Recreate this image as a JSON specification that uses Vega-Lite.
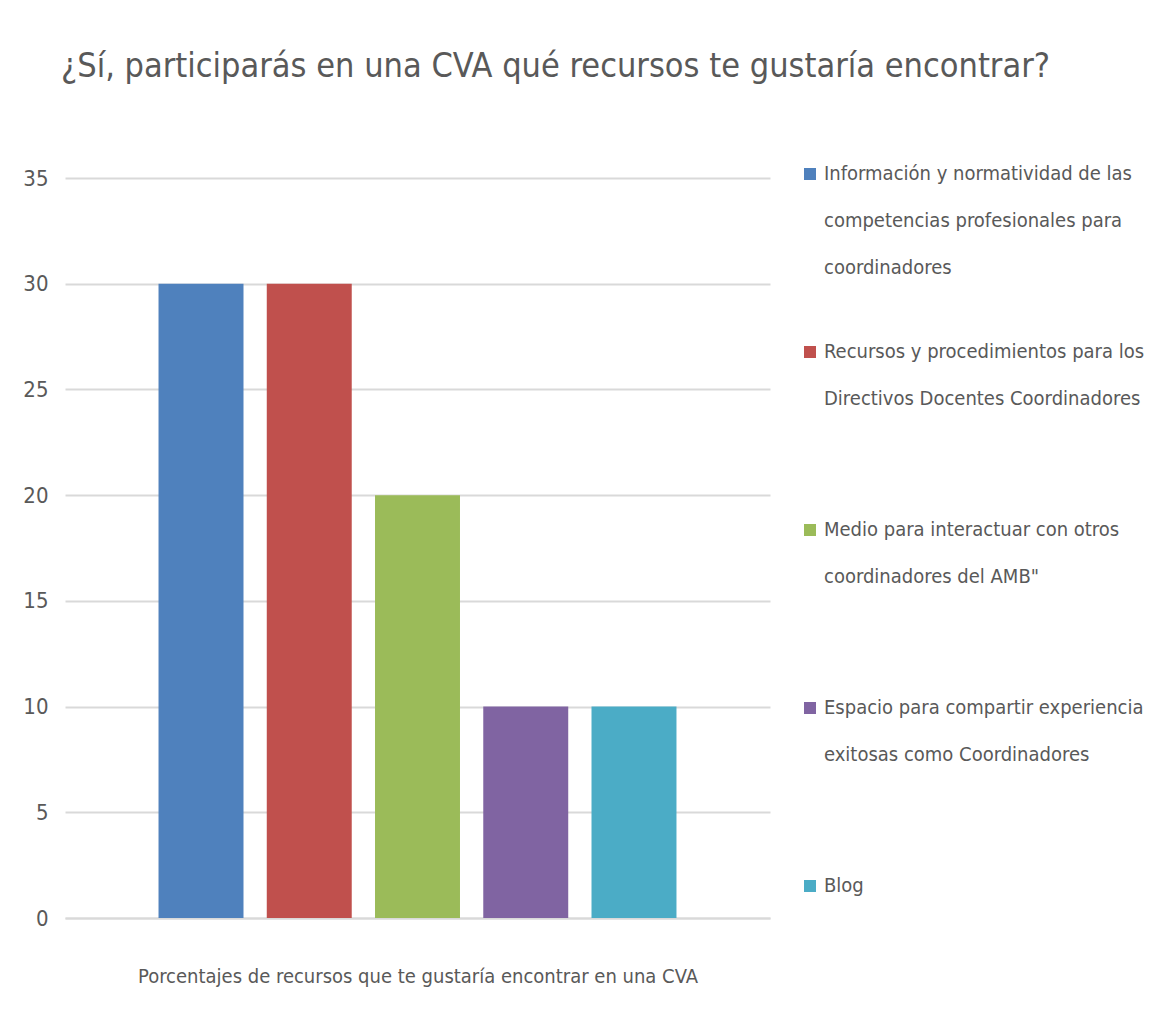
{
  "$schema": "https://vega.github.io/schema/vega-lite/v6.json",
  "autosize": {"type": "none"},
  "width": 705,
  "height": 740,
  "padding": {"left": 65, "top": 178, "right": 396, "bottom": 99},
  "background": "white",
  "config": {
    "font": "DejaVu Sans Condensed, Liberation Sans, sans-serif",
    "view": {"stroke": null},
    "style": {"guide-label": {"lineHeight": 47}}
  },
  "title": {
    "text": "¿Sí, participarás en una CVA qué recursos te gustaría encontrar?",
    "font": "DejaVu Sans Condensed, Liberation Sans, sans-serif",
    "fontSize": 34,
    "fontWeight": "normal",
    "color": "#595959",
    "anchor": "middle",
    "dx": 138,
    "offset": 80
  },
  "data": {
    "values": [
      {"recurso": "Información y normatividad de las competencias profesionales para coordinadores", "valor": 30},
      {"recurso": "Recursos y procedimientos para los Directivos Docentes Coordinadores", "valor": 30},
      {"recurso": "Medio para interactuar con otros coordinadores del AMB\"", "valor": 20},
      {"recurso": "Espacio para compartir experiencia exitosas como Coordinadores", "valor": 10},
      {"recurso": "Blog", "valor": 10}
    ]
  },
  "mark": {"type": "bar"},
  "encoding": {
    "x": {
      "field": "recurso",
      "type": "nominal",
      "sort": null,
      "scale": {"paddingInner": 0.215, "paddingOuter": 0.864},
      "axis": {
        "title": "Porcentajes de recursos que te gustaría encontrar en una CVA",
        "titleFont": "DejaVu Sans Condensed, Liberation Sans, sans-serif",
        "titleFontSize": 20,
        "titleFontWeight": "normal",
        "titleColor": "#595959",
        "titlePadding": 48,
        "labels": false,
        "ticks": false,
        "domain": true,
        "domainColor": "#D9D9D9",
        "domainWidth": 2
      }
    },
    "y": {
      "field": "valor",
      "type": "quantitative",
      "scale": {"domain": [0, 35]},
      "axis": {
        "title": null,
        "values": [0, 5, 10, 15, 20, 25, 30, 35],
        "domain": false,
        "ticks": false,
        "grid": true,
        "gridColor": "#D9D9D9",
        "gridWidth": 2,
        "labelFont": "DejaVu Sans Condensed, Liberation Sans, sans-serif",
        "labelFontSize": 22,
        "labelColor": "#595959",
        "labelPadding": 17
      }
    },
    "color": {
      "field": "recurso",
      "type": "nominal",
      "sort": null,
      "scale": {"range": ["#4F81BD", "#C0504D", "#9BBB59", "#8064A2", "#4BACC6"]},
      "legend": {
        "title": null,
        "orient": "none",
        "legendX": 735,
        "legendY": -14,
        "gridAlign": "all",
        "rowPadding": 64,
        "symbolType": "square",
        "symbolSize": 144,
        "symbolStrokeWidth": 0,
        "labelFont": "DejaVu Sans Condensed, Liberation Sans, sans-serif",
        "labelFontSize": 20,
        "labelColor": "#595959",
        "labelBaseline": "alphabetic",
        "labelOffset": 4,
        "labelLimit": 0,
        "labelExpr": "datum.label == 'Blog' ? 'Blog' : indexof(datum.label,'Información')==0 ? ['Información y normatividad de las','competencias profesionales para','coordinadores'] : indexof(datum.label,'Recursos')==0 ? ['Recursos y procedimientos para los','Directivos Docentes Coordinadores'] : indexof(datum.label,'Medio')==0 ? ['Medio para interactuar con otros','coordinadores del AMB\"'] : ['Espacio para compartir experiencia','exitosas como Coordinadores']",
        "encoding": {
          "labels": {"dy": {"value": 6}}
        }
      }
    }
  }
}
